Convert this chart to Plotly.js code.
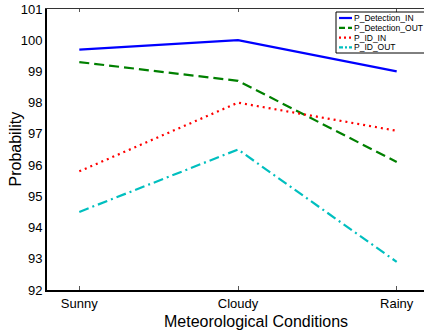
<!DOCTYPE html>
<html>
<head>
<meta charset="utf-8">
<script src="https://cdn.plot.ly/plotly-3.0.1.min.js"></script>
<style>html,body{margin:0;padding:0;background:#fff;}#chart{width:424px;height:333px;}</style>
</head>
<body>
<div id="chart"></div>
<script>
var categories = ["Sunny", "Cloudy", "Rainy"];
var seriesNames = ["P_Detection_IN", "P_Detection_OUT", "P_ID_IN", "P_ID_OUT"];
var pDetectionIn = [99.7, 100.0, 99.0];
var pDetectionOut = [99.3, 98.7, 96.1];
var pIdIn = [95.8, 98.0, 97.1];
var pIdOut = [94.5, 96.5, 92.9];
var yTicks = [92, 93, 94, 95, 96, 97, 98, 99, 100, 101];

var seriesValues = [pDetectionIn, pDetectionOut, pIdIn, pIdOut];
var colors = ["rgb(0,0,255)", "rgb(0,128,0)", "rgb(255,0,0)", "rgb(0,191,191)"];
var dashes = ["solid", "10px,5px", "2px,4px", "10px,4px,2px,4px"];
var legendDashes = ["solid", "6px,3px", "2px,3px", "4px,2px,2px,2px"];
var xIdx = categories.map(function (c, i) { return i; });
var FONT = "Liberation Sans, Arial, sans-serif";

var traces = seriesValues.map(function (vals, k) {
  return {
    x: xIdx, y: vals, type: "scatter", mode: "lines", name: seriesNames[k],
    line: { color: colors[k], width: 2.2, dash: dashes[k] },
    showlegend: false, hoverinfo: "skip"
  };
});
// invisible trace to activate the mirrored top axis
traces.push({ x: [0], y: [96], xaxis: "x2", yaxis: "y", mode: "markers", marker: { opacity: 0 }, showlegend: false, hoverinfo: "skip" });

// plot area in pixels: x 47..424 (377 wide), y 9..290 (281 tall)
function pxX(x) { return (x - 47) / 377; }
function pxY(y) { return (290 - y) / 281; }

var shapes = [];
var annotations = [];
var lgX0 = 336, lgY0 = 12, lgH = 41, rowH = 9.8;
shapes.push({
  type: "rect", xref: "paper", yref: "paper",
  x0: pxX(lgX0), x1: pxX(430), y0: pxY(lgY0 + lgH), y1: pxY(lgY0),
  line: { color: "black", width: 1 }, fillcolor: "white", layer: "above"
});
seriesNames.forEach(function (n, k) {
  var yp = pxY(lgY0 + 6 + k * rowH);
  shapes.push({
    type: "line", xref: "paper", yref: "paper",
    x0: pxX(339), x1: pxX(352), y0: yp, y1: yp,
    line: { color: colors[k], width: 2.2, dash: legendDashes[k] }, layer: "above"
  });
  annotations.push({
    xref: "paper", yref: "paper", x: pxX(352), y: yp,
    xanchor: "left", yanchor: "middle", showarrow: false, text: n,
    font: { family: FONT, size: 8.5, color: "black" }
  });
});
annotations.push({
  xref: "paper", yref: "paper", x: pxX(15), y: 0.5, xanchor: "center", yanchor: "middle",
  showarrow: false, textangle: -90, text: "Probability",
  font: { family: FONT, size: 16, color: "black" }
});
annotations.push({
  xref: "paper", yref: "paper", x: pxX(256), y: pxY(321), xanchor: "center", yanchor: "middle",
  showarrow: false, text: "Meteorological Conditions",
  font: { family: FONT, size: 16, color: "black" }
});

var layout = {
  width: 424, height: 333,
  margin: { l: 47, r: 0, t: 9, b: 43 },
  paper_bgcolor: "white", plot_bgcolor: "white",
  font: { family: FONT, color: "black" },
  showlegend: false,
  xaxis: {
    range: [-0.2035, 2.172], tickvals: xIdx, ticktext: categories,
    showgrid: false, zeroline: false, showline: true, linecolor: "black", linewidth: 2,
    ticks: "inside", ticklen: 4, tickwidth: 1, tickcolor: "#555",
    tickfont: { size: 13, family: FONT },
    fixedrange: true
  },
  xaxis2: {
    overlaying: "x", matches: "x", side: "top", range: [-0.2035, 2.172], tickvals: xIdx,
    showticklabels: false, showgrid: false, zeroline: false,
    showline: true, linecolor: "#333", linewidth: 1.2,
    ticks: "inside", ticklen: 3, tickwidth: 1, tickcolor: "#555"
  },
  yaxis: {
    range: [92, 101], tickvals: yTicks, ticktext: yTicks.map(String),
    showgrid: false, zeroline: false, showline: true, linecolor: "black", linewidth: 2,
    ticks: "", tickfont: { size: 13, family: FONT },
    fixedrange: true
  },
  shapes: shapes,
  annotations: annotations
};

Plotly.newPlot("chart", traces, layout, { displayModeBar: false, staticPlot: true });
</script>
</body>
</html>
